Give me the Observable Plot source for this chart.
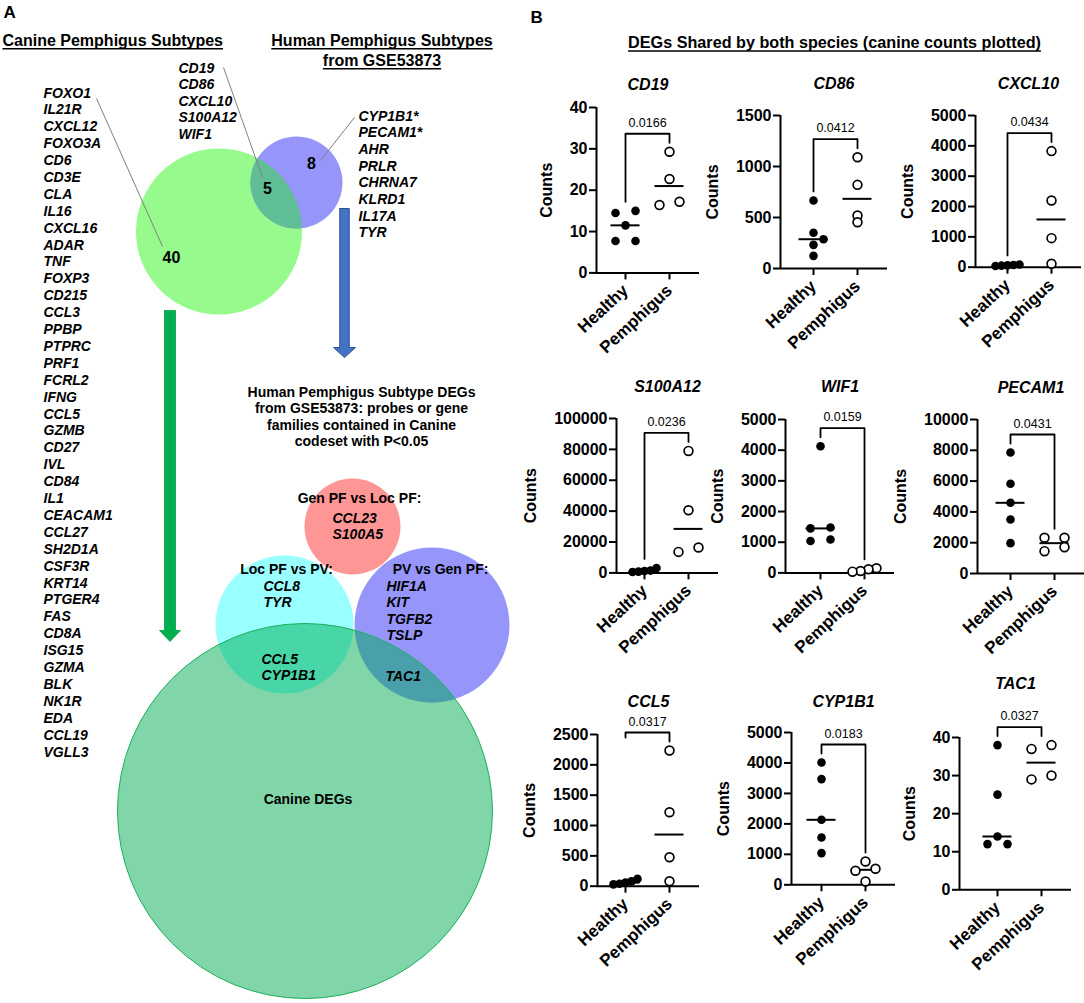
<!DOCTYPE html>
<html><head><meta charset="utf-8">
<script src="https://cdn.jsdelivr.net/npm/d3@7"></script>
<script src="https://cdn.jsdelivr.net/npm/@observablehq/plot@0.6"></script>
<style>
html,body{margin:0;padding:0;background:#fff;overflow:hidden}
#fig{position:relative;width:1084px;height:1003px;overflow:hidden;font-family:"Liberation Sans",Arial,sans-serif}
#fig > div{position:absolute}
#fig svg{overflow:visible;background:transparent;max-width:none}
#fig g[aria-label="y-axis tick label"]{font-weight:bold;font-size:16px}
#fig g[aria-label="x-axis tick label"]{font-weight:bold;font-size:17px}
</style></head>
<body><div id="fig"></div>
<script>
// ---------------- DATA ----------------
const canineOnlyGenes = ["FOXO1","IL21R","CXCL12","FOXO3A","CD6","CD3E","CLA","IL16","CXCL16","ADAR","TNF","FOXP3","CD215","CCL3","PPBP","PTPRC","PRF1","FCRL2","IFNG","CCL5","GZMB","CD27","IVL","CD84","IL1","CEACAM1","CCL27","SH2D1A","CSF3R","KRT14","PTGER4","FAS","CD8A","ISG15","GZMA","BLK","NK1R","EDA","CCL19","VGLL3"];
const sharedGenes = ["CD19","CD86","CXCL10","S100A12","WIF1"];
const humanOnlyGenes = ["CYP1B1*","PECAM1*","AHR","PRLR","CHRNA7","KLRD1","IL17A","TYR"];
const vennCounts = [40, 5, 8]; // canine only, shared, human only
const genVsLocGenes = ["CCL23","S100A5"];
const locVsPVGenes = ["CCL8","TYR"];
const pvVsGenGenes = ["HIF1A","KIT","TGFB2","TSLP"];
const locVsPVCanine = ["CCL5","CYP1B1"];
const pvVsGenCanine = ["TAC1"];
const comparisonLabels = ["Gen PF vs Loc PF:","Loc PF vs PV:","PV vs Gen PF:"];
const canineTitle = "Canine Pemphigus Subtypes";
const humanTitle = ["Human Pemphigus Subtypes","from GSE53873"];
const subtypeHeading = ["Human Pemphigus Subtype DEGs","from GSE53873: probes or gene","families contained in Canine","codeset with P<0.05"];
const canineDEGLabel = "Canine DEGs";
const panelBTitle = "DEGs Shared by both species (canine counts plotted)";

const groups = ["Healthy","Pemphigus"];
const genes = ["CD19","CD86","CXCL10","S100A12","WIF1","PECAM1","CCL5","CYP1B1","TAC1"];
const pValues = ["0.0166","0.0412","0.0434","0.0236","0.0159","0.0431","0.0317","0.0183","0.0327"];
const yMaxes = [40,1500,5000,100000,5000,10000,2500,5000,40];
const yTickSteps = [10,500,1000,20000,1000,2000,500,1000,10];
const healthyCounts = [
  [15,14.5,11.5,7.7,7.7],
  [667,350,287,232,124],
  [90,70,60,50,40],
  [3200,1500,1200,800,600],
  [4130,1480,1450,1090,1040],
  [7857,5825,4590,3506,1970],
  [120,80,60,40,30],
  [4015,3470,2134,1553,1040],
  [38,25,14,12,12]
];
const pemphigusCounts = [
  [29.3,22.7,17.2,16.4],
  [1091,820,520,454],
  [3826,2200,957,112],
  [79000,40600,16450,13600],
  [150,120,60,40],
  [2320,2320,1710,1450],
  [2236,1219,478,82],
  [765,525,460,108],
  [38,37,30,29]
];
const healthyMedians = [11.5,287,60,1200,1450,4590,60,2134,14];
const pemphigusMedians = [21,683,1573,28500,90,1970,851,492,33.4];

// ---------------- LAYOUT ----------------
const FONT = '"Liberation Sans", Arial, sans-serif';
const layout = {
  labelA: {x: 3, y: 11}, labelB: {x: 530, y: 16},
  canineTitle: {x: 2, y: 40}, humanTitle: {x: 381.5, y: 40, lh: 20},
  canineList: {x: 43, y: 92, lh: 16.9}, sharedList: {x: 178, y: 67, lh: 16.5}, humanList: {x: 358, y: 115, lh: 16.7},
  topCanine: {x: 218.5, y: 231, r: 83}, topHuman: {x: 296, y: 182, r: 46},
  countPos: [{x: 171, y: 257}, {x: 267, y: 188}, {x: 311, y: 163}],
  leaders: [{x1: 96, y1: 98, x2: 162, y2: 246}, {x1: 223, y1: 67, x2: 262, y2: 177}, {x1: 320, y1: 160, x2: 354, y2: 117}],
  greenArrow: {cx: 169.5, top: 310, base: 630, tip: 641, shaft: 11, head: 21},
  blueArrow: {cx: 344, top: 208, base: 347, tip: 357, shaft: 9.5, head: 22},
  heading: {x: 361, y: 391, lh: 16.6},
  red: {x: 352, y: 526, r: 48}, cyan: {x: 284, y: 624, r: 69}, purple: {x: 431.5, y: 624.5, r: 77.5},
  big: {x: 304.5, y: 810.5, r: 187.5},
  compLabels: [{x: 359, y: 497}, {x: 286, y: 568}, {x: 440, y: 568}],
  genVsLoc: {x: 332, y: 517}, locVsPV: {x: 263, y: 585}, pvVsGen: {x: 386, y: 585},
  locVsPVCan: {x: 261, y: 658}, pvVsGenCan: {x: 385, y: 675},
  canineDEG: {x: 307.5, y: 798},
  bTitle: {x: 834, y: 42}
};
const panelFrames = [
  {axisX: 596, healthyX: 625, yTop: 107.3, y0: 272.7, titleY: 85},
  {axisX: 780, healthyX: 813, yTop: 115, y0: 268, titleY: 83},
  {axisX: 975, healthyX: 1007, yTop: 115, y0: 266.7, titleY: 83},
  {axisX: 616, healthyX: 644, yTop: 418.3, y0: 572.7, titleY: 387},
  {axisX: 785, healthyX: 820, yTop: 419.3, y0: 572.7, titleY: 387},
  {axisX: 977, healthyX: 1010, yTop: 419, y0: 573, titleY: 387},
  {axisX: 597, healthyX: 625, yTop: 734, y0: 885.7, titleY: 701, shortLeft: true},
  {axisX: 791, healthyX: 821, yTop: 731.7, y0: 884, titleY: 701},
  {axisX: 959, healthyX: 997, yTop: 736.7, y0: 889, titleY: 683}
];

// ---------------- HELPERS ----------------
function block(lines, pos, fs, lhPx, opts = {}) {
  const lh = (lhPx || fs * 1.2) / fs;
  const y = pos.y + 0.358 * fs - 0.71 * lh * fs;
  return Plot.text([lines.join("\n")], {x: pos.x, y, text: d => d, lineAnchor: "top", lineHeight: lh, fontSize: fs, fill: "black", ...opts});
}
const measureCtx = document.createElement("canvas").getContext("2d");
function underline(lines, pos, fs, lhPx, anchor) {
  measureCtx.font = `bold ${fs}px ${FONT}`;
  return Plot.link(lines.map((t, j) => {
    const w = measureCtx.measureText(t).width;
    const x1 = anchor === "middle" ? pos.x - w / 2 : pos.x;
    const y = pos.y + 0.358 * fs + j * (lhPx || 0) + 2.6;
    return {x1, x2: x1 + w, y};
  }), {x1: "x1", x2: "x2", y1: "y", y2: "y", stroke: "black", strokeWidth: 1.5});
}
function lens(a, b, n = 80) {
  const dx = b.x - a.x, dy = b.y - a.y, d = Math.hypot(dx, dy);
  const th = Math.atan2(dy, dx);
  const aa = (a.r * a.r - b.r * b.r + d * d) / (2 * d);
  const al = Math.acos(aa / a.r), be = Math.acos((d - aa) / b.r);
  const pts = [];
  for (let i = 0; i <= n; i++) { const t = th - al + 2 * al * i / n; pts.push({x: a.x + a.r * Math.cos(t), y: a.y + a.r * Math.sin(t)}); }
  for (let i = 0; i <= n; i++) { const t = th + Math.PI - be + 2 * be * i / n; pts.push({x: b.x + b.r * Math.cos(t), y: b.y + b.r * Math.sin(t)}); }
  return pts;
}
function arrowPoly(a) {
  const s = a.shaft / 2, h = a.head / 2;
  return [{x: a.cx - s, y: a.top}, {x: a.cx + s, y: a.top}, {x: a.cx + s, y: a.base}, {x: a.cx + h, y: a.base},
          {x: a.cx, y: a.tip}, {x: a.cx - h, y: a.base}, {x: a.cx - s, y: a.base}, {x: a.cx - s, y: a.top}];
}
function circle(c, opts) { return Plot.dot([c], {x: "x", y: "y", r: c.r, ...opts}); }

const fig = document.getElementById("fig");
function place(svg, left, top) {
  const d = document.createElement("div");
  d.style.left = left + "px"; d.style.top = top + "px";
  d.appendChild(svg); fig.appendChild(d);
}

// ---------------- PANEL A (base) ----------------
const L = layout;
const bold = {fontWeight: "bold"}, bi = {fontWeight: "bold", fontStyle: "italic"};
const base = Plot.plot({
  width: 1084, height: 1003, margin: 0,
  x: {domain: [0, 1084], range: [0, 1084], axis: null},
  y: {domain: [0, 1003], range: [0, 1003], axis: null},
  style: {fontFamily: FONT, background: "transparent", overflow: "visible"},
  marks: [
    block(["A"], L.labelA, 17, 0, {...bold, textAnchor: "start"}),
    block(["B"], L.labelB, 17, 0, {...bold, textAnchor: "start"}),
    block([canineTitle], L.canineTitle, 16, 0, {...bold, textAnchor: "start"}),
    underline([canineTitle], L.canineTitle, 16, 0, "start"),
    block(humanTitle, L.humanTitle, 16, L.humanTitle.lh, {...bold, textAnchor: "middle"}),
    underline(humanTitle, L.humanTitle, 16, L.humanTitle.lh, "middle"),
    block([panelBTitle], L.bTitle, 16.2, 0, {...bold, textAnchor: "middle"}),
    underline([panelBTitle], L.bTitle, 16.2, 0, "middle"),
    block(canineOnlyGenes, L.canineList, 14, L.canineList.lh, {...bi, textAnchor: "start"}),
    block(sharedGenes, L.sharedList, 14, L.sharedList.lh, {...bi, textAnchor: "start"}),
    block(humanOnlyGenes, L.humanList, 14, L.humanList.lh, {...bi, textAnchor: "start"}),
    // top venn
    circle(L.topCanine, {fill: "#96FA8C"}),
    circle(L.topHuman, {fill: "#9696FA"}),
    Plot.line(lens(L.topCanine, L.topHuman), {x: "x", y: "y", fill: "#5FBE96", stroke: "none"}),
    Plot.link(L.leaders, {x1: "x1", y1: "y1", x2: "x2", y2: "y2", stroke: "#808080", strokeWidth: 1}),
    ...vennCounts.map((c, i) => block([String(c)], L.countPos[i], 16, 0, {...bold, textAnchor: "middle"})),
    // arrows
    Plot.line(arrowPoly(L.greenArrow), {x: "x", y: "y", fill: "#00B050", stroke: "#00A048", strokeWidth: 0.8}),
    Plot.line(arrowPoly(L.blueArrow), {x: "x", y: "y", fill: "#4472C4", stroke: "#2F528F", strokeWidth: 1}),
    block(subtypeHeading, L.heading, 14, L.heading.lh, {...bold, textAnchor: "middle"}),
    // lower venn
    circle(L.red, {fill: "#FF9696"}),
    circle(L.cyan, {fill: "#99FFFF"}),
    circle(L.purple, {fill: "#9696FA"}),
    circle(L.big, {fill: "#80D6A8"}),
    Plot.line(lens(L.cyan, L.big), {x: "x", y: "y", fill: "#48D6A8", stroke: "none"}),
    Plot.line(lens(L.purple, L.big), {x: "x", y: "y", fill: "#4AA0AA", stroke: "none"}),
    circle(L.big, {fill: "none", stroke: "#1DB060", strokeWidth: 1}),
    ...comparisonLabels.map((t, i) => block([t], L.compLabels[i], 14, 0, {...bold, textAnchor: "middle"})),
    block(genVsLocGenes, L.genVsLoc, 14, 16.5, {...bi, textAnchor: "start"}),
    block(locVsPVGenes, L.locVsPV, 14, 16.8, {...bi, textAnchor: "start"}),
    block(pvVsGenGenes, L.pvVsGen, 14, 16.6, {...bi, textAnchor: "start"}),
    block(locVsPVCanine, L.locVsPVCan, 14, 16.8, {...bi, textAnchor: "start"}),
    block(pvVsGenCanine, L.pvVsGenCan, 14, 0, {...bi, textAnchor: "start"}),
    block([canineDEGLabel], L.canineDEG, 14, 0, {...bold, textAnchor: "middle"})
  ]
});
place(base, 0, 0);

// ---------------- PANEL B (scatter plots) ----------------
function swarm(values, k) {
  const items = values.map(v => ({v, py: v * k})).sort((a, b) => b.v - a.v);
  const rows = [];
  for (const it of items) {
    const last = rows[rows.length - 1];
    if (last && last[last.length - 1].py - it.py < 5) last.push(it); else rows.push([it]);
  }
  const placed = [];
  for (const row of rows) {
    if (row.length > 1) {
      const s = Math.min(20, 24 / (row.length - 1));
      row.forEach((it, j) => { it.off = ((row.length - 1) / 2 - j) * s; placed.push(it); });
    } else {
      const it = row[0];
      for (const c of [0, 10, -10, 20, -20]) {
        if (placed.every(p => Math.hypot(p.off - c, p.py - it.py) >= 6.5)) { it.off = c; break; }
      }
      if (it.off === undefined) it.off = 0;
      placed.push(it);
    }
  }
  return items;
}

const PX = 44, RIGHT = 30, mL = 100, mR = 6, mT = 70, mB = 95;
genes.forEach((gene, i) => {
  const f = panelFrames[i];
  const yMax = yMaxes[i], step = yTickSteps[i];
  const innerH = f.y0 - f.yTop, k = innerH / yMax;
  const hOff = f.healthyX - f.axisX, innerW = hOff + PX + RIGHT;
  const xDomain = [-hOff / PX, 1 + RIGHT / PX];
  const h = healthyCounts[i], p = pemphigusCounts[i];
  const hPts = swarm(h, k), pPts = swarm(p, k);
  const allMax = Math.max(...h, ...p);
  const top = allMax + 18 / k;
  const legL = f.shortLeft ? top - 5 / k : Math.min(d3.max(h) + 9 / k, top - 4 / k);
  const legR = Math.min(d3.max(p) + 9 / k, top - 4 / k);
  const bracket = [{x: 0, y: legL}, {x: 0, y: top}, {x: 1, y: top}, {x: 1, y: legR}];
  const hw = 14.5 / PX;
  const meds = [{g: 0, v: healthyMedians[i]}, {g: 1, v: pemphigusMedians[i]}];
  const nDigits = String(yMax).length;
  const svg = Plot.plot({
    width: mL + innerW + mR, height: mT + innerH + mB,
    marginLeft: mL, marginRight: mR, marginTop: mT, marginBottom: mB,
    x: {domain: xDomain},
    y: {domain: [0, yMax]},
    style: {fontFamily: FONT, background: "transparent", overflow: "visible", color: "black"},
    marks: [
      Plot.axisY({ticks: d3.range(0, yMax + step / 2, step), tickSize: 7, tickPadding: 2, tickFormat: "d", strokeWidth: 2, fontSize: 16, fontWeight: "bold", label: null}),
      Plot.axisX({ticks: [0, 1], tickFormat: d => groups[d], tickRotate: -43, tickSize: 7, tickPadding: 8, strokeWidth: 2, fontSize: 17, fontWeight: "bold", label: null}),
      Plot.ruleX([xDomain[0]], {strokeWidth: 2}),
      Plot.ruleY([0], {strokeWidth: 2}),
      Plot.ruleY(meds, {y: "v", x1: d => d.g - hw, x2: d => d.g + hw, strokeWidth: 2}),
      Plot.dot(hPts, {x: d => d.off / PX, y: "v", r: 4.3, fill: "black"}),
      Plot.dot(pPts, {x: d => 1 + d.off / PX, y: "v", r: 4.4, fill: "white", stroke: "black", strokeWidth: 1.7}),
      Plot.line(bracket, {x: "x", y: "y", stroke: "black", strokeWidth: 1.8}),
      Plot.text([pValues[i]], {x: 0.5, y: top, text: d => d, dy: -11, fontSize: 12.5, lineAnchor: "middle", fill: "black"}),
      Plot.text([gene], {frameAnchor: "top", dy: f.titleY - f.yTop, text: d => d, textAnchor: "middle", lineAnchor: "middle", fontSize: 16, fontWeight: "bold", fontStyle: "italic", fill: "black"}),
      Plot.text(["Counts"], {frameAnchor: "left", rotate: -90, dx: -(8 + 9 * nDigits + 24), text: d => d, textAnchor: "middle", lineAnchor: "middle", fontSize: 16, fontWeight: "bold", fill: "black"})
    ]
  });
  place(svg, f.axisX - mL, f.yTop - mT);
});
</script></body></html>
